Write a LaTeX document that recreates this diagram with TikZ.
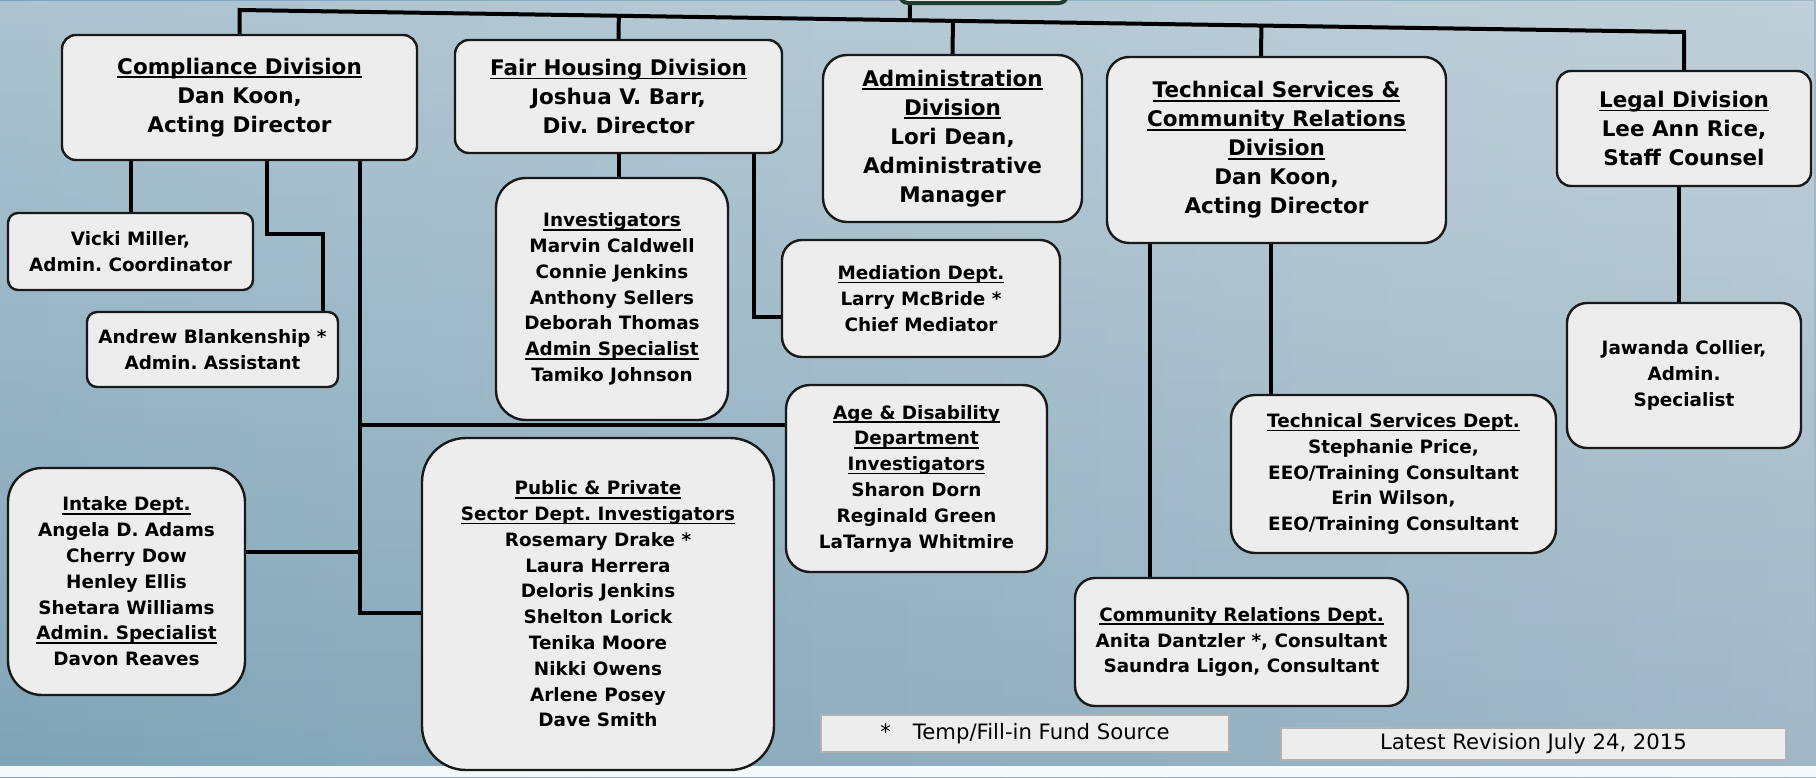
\documentclass[tikz,border=0pt]{standalone}
\usepackage{fontspec}
\setmainfont{DejaVu Sans}
\usetikzlibrary{calc,fadings}
\definecolor{boxfill}{HTML}{EDEDED}
\definecolor{bgleft}{HTML}{7FA4B7}
\definecolor{bgmid}{HTML}{C5CFD5}
\definecolor{bgright}{HTML}{9FB7C6}
\definecolor{topgreen}{HTML}{1E3B2E}
\tikzfading[name=topfade, top color=transparent!0, bottom color=transparent!100]
\newcommand{\hdr}[1]{\setbox0=\hbox{#1}\rlap{\rule[-1.9pt]{\wd0}{0.85pt}}\box0}
\frenchspacing

\begin{document}
\begin{tikzpicture}[x=0.5pt,y=-0.5pt,
  divbox/.style={draw=black!90, fill=boxfill, line width=1.2pt, align=center, inner sep=0pt, rounded corners=7pt, font=\bfseries\fontsize{10.75}{14.5}\selectfont},
  deptbox/.style={divbox, font=\bfseries\fontsize{9.2}{12.9}\selectfont},
  notebox/.style={draw=gray!60, fill=boxfill, line width=0.6pt, inner sep=0pt, font=\fontsize{10.6}{12}\selectfont},
  conn/.style={line width=2pt, black}]
\useasboundingbox (0,0) rectangle (1816,777);
\shade[left color=bgleft, middle color=bgmid, right color=bgright] (0,0) rectangle (1816,777);
\fill[white, path fading=topfade, fill opacity=0.35] (0,0) rectangle (1816,777);
\fill[white!85!bgmid] (0,766) rectangle (1816,777);

\node[divbox, draw=topgreen, line width=2pt, rounded corners=4pt, minimum width=83.5pt, minimum height=33pt] (director) at (983.5,-30) {};
\node[divbox, minimum width=177.5pt, minimum height=62.5pt] (comp) at (239.5,97.5) {\hdr{Compliance Division}\\Dan Koon,\\Acting Director};
\node[divbox, minimum width=163.5pt, minimum height=56.5pt] (fair) at (618.5,96.5) {\hdr{Fair Housing Division}\\Joshua V. Barr,\\Div. Director};
\node[divbox, rounded corners=12pt, minimum width=129.5pt, minimum height=83.5pt] (admin) at (952.5,138.5) {\hdr{Administration}\\\hdr{Division}\\Lori Dean,\\Administrative\\Manager};
\node[divbox, rounded corners=11pt, minimum width=169.5pt, minimum height=93pt] (tech) at (1276.5,150) {\hdr{Technical Services \&}\\\hdr{Community Relations}\\\hdr{Division}\\Dan Koon,\\Acting Director};
\node[divbox, minimum width=127pt, minimum height=57.5pt] (legal) at (1684,128.5) {\hdr{Legal Division}\\Lee Ann Rice,\\Staff Counsel};
\node[deptbox, rounded corners=5pt, minimum width=122.5pt, minimum height=38.5pt] (vicki) at (130.5,251.5) {Vicki Miller,\\Admin. Coordinator};
\node[deptbox, rounded corners=5pt, minimum width=125.5pt, minimum height=37.5pt] (andrew) at (212.5,349.5) {Andrew Blankenship *\\Admin. Assistant};
\node[deptbox, rounded corners=15pt, minimum width=116pt, minimum height=121pt] (invest) at (612,299) {\hdr{Investigators}\\Marvin Caldwell\\Connie Jenkins\\Anthony Sellers\\Deborah Thomas\\\hdr{Admin Specialist}\\Tamiko Johnson};
\node[deptbox, rounded corners=10pt, minimum width=139pt, minimum height=58.5pt] (medi) at (921,298.5) {\hdr{Mediation Dept.}\\Larry McBride *\\Chief Mediator};
\node[deptbox, rounded corners=12pt, minimum width=130.5pt, minimum height=93.5pt] (age) at (916.5,478.5) {\hdr{Age \& Disability}\\\hdr{Department}\\\hdr{Investigators}\\Sharon Dorn\\Reginald Green\\LaTarnya Whitmire};
\node[deptbox, rounded corners=22pt, minimum width=176pt, minimum height=166pt] (public) at (598,604) {\hdr{Public \& Private}\\\hdr{Sector Dept. Investigators}\\Rosemary Drake *\\Laura Herrera\\Deloris Jenkins\\Shelton Lorick\\Tenika Moore\\Nikki Owens\\Arlene Posey\\Dave Smith};
\node[deptbox, rounded corners=17pt, minimum width=118.5pt, minimum height=113.5pt] (intake) at (126.5,581.5) {\hdr{Intake Dept.}\\Angela D. Adams\\Cherry Dow\\Henley Ellis\\Shetara Williams\\\hdr{Admin. Specialist}\\Davon Reaves};
\node[deptbox, rounded corners=12pt, minimum width=162.5pt, minimum height=79pt] (tsdept) at (1393.5,474) {\hdr{Technical Services Dept.}\\Stephanie Price,\\EEO/Training Consultant\\Erin Wilson,\\EEO/Training Consultant};
\node[deptbox, rounded corners=10pt, minimum width=166.5pt, minimum height=64pt] (crdept) at (1241.5,642) {\hdr{Community Relations Dept.}\\Anita Dantzler *, Consultant\\Saundra Ligon, Consultant};
\node[deptbox, rounded corners=10pt, minimum width=117pt, minimum height=72.5pt] (jawanda) at (1684,375.5) {Jawanda Collier,\\Admin.\\Specialist};
\node[notebox, minimum width=204pt, minimum height=18.5pt] (legend) at (1025,733.5) {*\hspace{11pt}Temp/Fill-in Fund Source};
\node[notebox, minimum width=252.5pt, minimum height=16pt] (revision) at (1533.5,744) {Latest Revision July 24, 2015};

\coordinate (busL) at (comp.north |- 0,10);
\coordinate (busR) at (legal.north |- 0,32);
\draw[conn] (comp.north) -- (busL) -- (busR) -- (legal.north);
\draw[conn] ([xshift=6pt]director.south west) -- ($(busL)!([xshift=6pt]director.south west)!(busR)$);
\draw[conn] (fair.north) -- ($(busL)!(fair.north)!(busR)$);
\draw[conn] (admin.north) -- ($(busL)!(admin.north)!(busR)$);
\draw[conn] ([xshift=-7.75pt]tech.north) -- ($(busL)!([xshift=-7.75pt]tech.north)!(busR)$);

\draw[conn] (comp.south -| vicki.north) -- (vicki.north);
\draw[conn] ([xshift=13.75pt]comp.south) -- ++(0,73) -| ([xshift=-8pt]andrew.north east);
\coordinate (j-age) at (360,425);
\coordinate (j-intake) at (360,552);
\coordinate (j-public) at (360,613);
\draw[conn] (comp.south -| j-age) -- (j-public) -- (j-public -| public.west);
\draw[conn] (j-age) -- (j-age -| age.west);
\draw[conn] (j-intake) -- (j-intake -| intake.east);
\draw[conn] (fair.south) -- (fair.south |- invest.north);
\coordinate (j-medi) at (754,317);
\draw[conn] (fair.south -| j-medi) -- (j-medi) -- (j-medi -| medi.west);
\draw[conn] ([xshift=-2.75pt]tech.south) -- ([xshift=-2.75pt]tech.south |- tsdept.north);
\draw[conn] ([xshift=-63.25pt]tech.south) -- ([xshift=-63.25pt]tech.south |- crdept.north);
\draw[conn] ([xshift=-2.5pt]legal.south) -- ([xshift=-2.5pt]legal.south |- jawanda.north);
\end{tikzpicture}
\end{document}
